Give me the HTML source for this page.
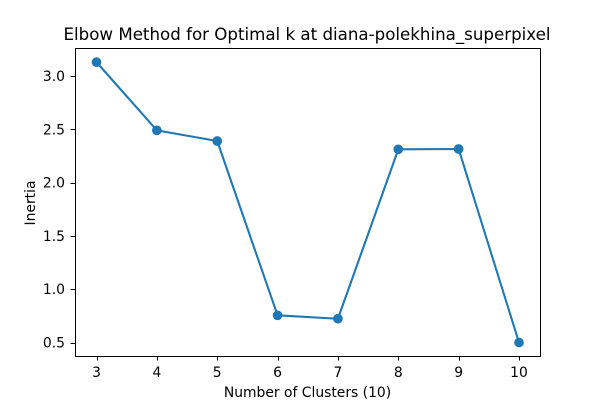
<!DOCTYPE html>
<html>
<head>
<meta charset="utf-8">
<style>
html,body{margin:0;padding:0;background:#fff;width:600px;height:400px;overflow:hidden}
svg{display:block}
text{font-family:"DejaVu Sans",sans-serif;fill:#000}
</style>
</head>
<body>
<svg id="chart" width="600" height="400" viewBox="0 0 600 400" xmlns="http://www.w3.org/2000/svg">
<rect x="0" y="0" width="600" height="400" fill="#fff"/>
<rect x="75" y="48" width="465" height="308" fill="#fff"/>
<g id="ticks"></g>
<g id="series"></g>
<rect x="75.5" y="48.5" width="465" height="308" fill="none" stroke="#000" stroke-width="1"/>
<text x="307" y="40" text-anchor="middle" font-size="16.67">Elbow Method for Optimal k at diana-polekhina_superpixel</text>
<text x="307.5" y="397" text-anchor="middle" font-size="13.89">Number of Clusters (10)</text>
<text transform="translate(35,203) rotate(-90)" text-anchor="middle" font-size="13.89">Inertia</text>
</svg>
<script>
const clusters = [3, 4, 5, 6, 7, 8, 9, 10];
const inertia = [3.13, 2.49, 2.39, 0.755, 0.723, 2.312, 2.315, 0.5];
const xTicks = [3, 4, 5, 6, 7, 8, 9, 10];
const yTicks = [0.5, 1.0, 1.5, 2.0, 2.5, 3.0];
const yTickLabels = ['0.5', '1.0', '1.5', '2.0', '2.5', '3.0'];

const NS = 'http://www.w3.org/2000/svg';
function xScale(v) { return 96.5 + (v - 3) * (519 - 96.5) / 7; }
function yScale(v) { return 342.5 - (v - 0.5) * (342.5 - 76) / 2.5; }
function make(tag, attrs) {
  const el = document.createElementNS(NS, tag);
  for (const k in attrs) el.setAttribute(k, attrs[k]);
  return el;
}
const tickGroup = document.getElementById('ticks');
xTicks.forEach(function (t) {
  const x = Math.round(xScale(t)) + 0.5;
  const mark = make('line', { x1: x, x2: x, y1: 356, y2: 360.5, stroke: '#000', 'stroke-width': 1 });
  
  
  tickGroup.appendChild(mark);
  const label = make('text', { x: xScale(t), y: 377, 'text-anchor': 'middle', 'font-size': 13.89 });
  
  
  label.textContent = t;
  tickGroup.appendChild(label);
});
yTicks.forEach(function (t, i) {
  const y = Math.round(yScale(t)) + 0.5;
  const mark = make('line', { x1: 70.5, x2: 75, y1: y, y2: y, stroke: '#000', 'stroke-width': 1 });
  
  
  tickGroup.appendChild(mark);
  const label = make('text', { x: 65, y: yScale(t) + 5, 'text-anchor': 'end', 'font-size': 13.89 });
  
  
  label.textContent = yTickLabels[i];
  tickGroup.appendChild(label);
});
const seriesGroup = document.getElementById('series');
const pts = clusters.map(function (c, i) { return xScale(c) + ',' + yScale(inertia[i]); }).join(' ');
const line = make('polyline', { points: pts, fill: 'none', stroke: '#1f77b4', 'stroke-width': 2.08, 'stroke-linejoin': 'round' });


seriesGroup.appendChild(line);
clusters.forEach(function (c, i) {
  const dot = make('circle', { cx: xScale(c), cy: yScale(inertia[i]), r: 4.85, fill: '#1f77b4' });
  
  
  seriesGroup.appendChild(dot);
});
</script>
</body>
</html>
